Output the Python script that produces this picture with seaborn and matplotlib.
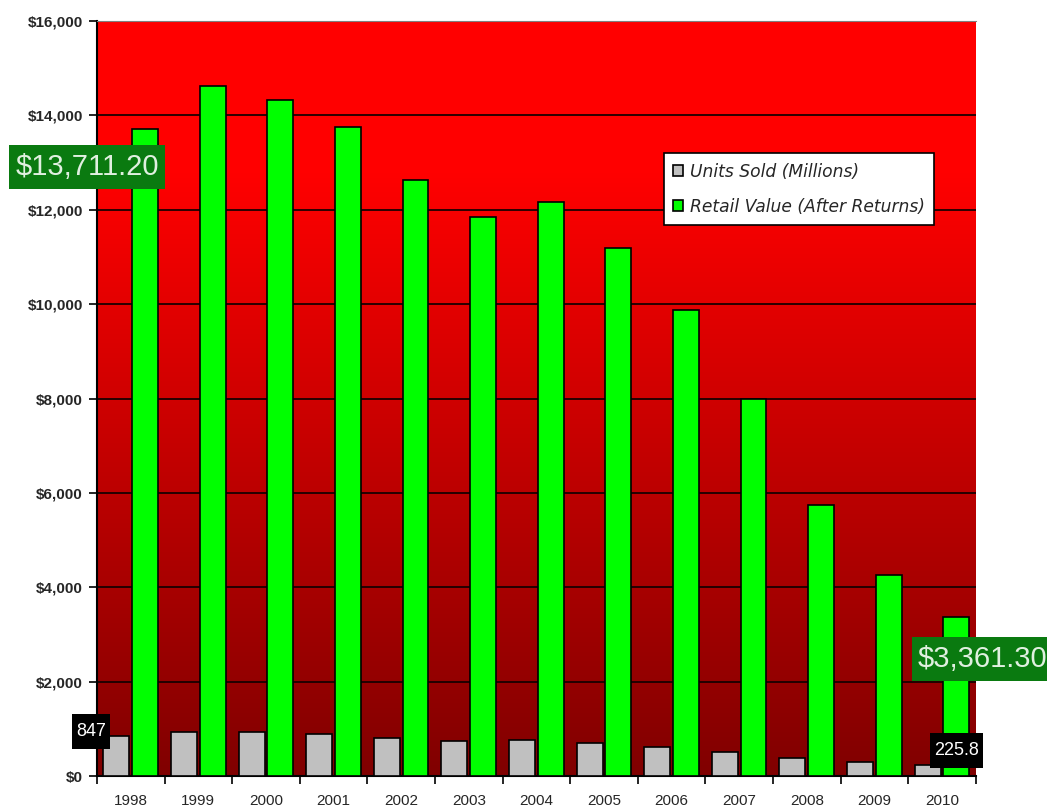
import numpy as np
import pandas as pd
import seaborn as sns
import matplotlib.pyplot as plt
from matplotlib.colors import LinearSegmentedColormap
from matplotlib.ticker import FuncFormatter, MultipleLocator
from matplotlib.path import Path as MplPath

# === Dados ===
years = ["1998", "1999", "2000", "2001", "2002", "2003", "2004",
         "2005", "2006", "2007", "2008", "2009", "2010"]
units_sold = [847, 938.9, 942.5, 881.9, 803.3, 745.9, 767.0,
              705.4, 614.9, 511.1, 384.7, 296.6, 225.8]
retail_value = [13711.2, 14620, 14335, 13750, 12630, 11850, 12158,
                11185, 9873, 7985, 5740, 4260, 3361.3]
series_names = ["Units Sold (Millions)", "Retail Value (After Returns)"]

df = pd.DataFrame({
    "year": years * 2,
    "value": units_sold + retail_value,
    "series": [series_names[0]] * len(years) + [series_names[1]] * len(years),
})

sns.set_theme(style="white")
plt.rcParams["font.family"] = ["Liberation Sans", "DejaVu Sans"]


def rect_box(pad_x, pad_y):
    """Caixa retangular com folgas diferentes na horizontal e vertical (pixels)."""
    def _box(x0, y0, width, height, mutation_size):
        x0, y0 = x0 - pad_x, y0 - pad_y
        x1, y1 = x0 + width + 2 * pad_x, y0 + height + 2 * pad_y
        return MplPath([(x0, y0), (x1, y0), (x1, y1), (x0, y1), (x0, y0)],
                       closed=True)
    return _box


fig = plt.figure(figsize=(10.47, 8.08), dpi=100)
ax = fig.add_axes([0.0926, 0.0396, 0.8394, 0.9344])

# fundo em degradê vermelho (claro em cima, escuro embaixo)
cmap = LinearSegmentedColormap.from_list(
    "redgrad", [(0.0, "#800000"), (0.8, "#ff0000"), (1.0, "#ff0000")])
grad = np.linspace(0, 1, 256).reshape(-1, 1)
ax.imshow(grad, cmap=cmap, origin="lower", aspect="auto",
          extent=[0, 1, 0, 1], transform=ax.transAxes, zorder=0)

sns.barplot(data=df, x="year", y="value", hue="series", ax=ax,
            hue_order=series_names, palette=["#c0c0c0", "#00ff00"],
            width=0.85, gap=0.1, edgecolor="black", linewidth=1.2,
            saturation=1, zorder=3)

ax.set_xlim(-0.5, 12.5)
ax.set_ylim(0, 16000)
ax.set_xlabel("")
ax.set_ylabel("")

# grade horizontal
ax.yaxis.set_major_locator(MultipleLocator(2000))
for v in range(2000, 16000, 2000):
    ax.axhline(v, color="#1a0000", lw=1.3, zorder=1)

ax.yaxis.set_major_formatter(FuncFormatter(lambda v, p: f"${v:,.0f}"))
ax.tick_params(axis="y", which="major", direction="out", length=6, width=1.2,
               color="black", left=True, labelsize=11, pad=4)
for lab in ax.get_yticklabels():
    lab.set_fontweight("bold")

# ticks do eixo x nos limites das categorias
ax.set_xticks(np.arange(-0.5, 13, 1), minor=True)
ax.tick_params(axis="x", which="minor", direction="out", length=6, width=1.2,
               color="black", bottom=True)
ax.tick_params(axis="x", which="major", length=0, labelsize=11, pad=13)

for s in ["left", "bottom"]:
    ax.spines[s].set_color("black")
    ax.spines[s].set_linewidth(1.5)
ax.spines["top"].set_color("#808080")
ax.spines["top"].set_linewidth(0.8)
ax.spines["right"].set_visible(False)

# legenda
handles, labels = ax.get_legend_handles_labels()
leg = ax.legend(handles, labels, loc="upper right", bbox_to_anchor=(0.953, 0.825),
                prop={"family": "DejaVu Sans", "style": "italic", "size": 12.3},
                handlelength=0.6, handleheight=0.6, handletextpad=0.4,
                labelspacing=1.0, borderpad=0.55, borderaxespad=0,
                frameon=True, fancybox=False, facecolor="white",
                edgecolor="black", framealpha=1)
leg.get_frame().set_linewidth(1.2)
leg.set_zorder(5)

# rótulos destacados
green_box = dict(boxstyle=rect_box(6, 8), fc="#0a7a10", ec="none")
black_box = dict(boxstyle=rect_box(4, 9), fc="black", ec="none")
ax.text(-0.645, 12900, "$13,711.20", ha="center", va="center", fontsize=21,
        color="#e0f0e0", zorder=6, clip_on=False, bbox=green_box)
ax.text(11.64, 2484, "$3,361.30", ha="left", va="center", fontsize=21,
        color="#e0f0e0", zorder=6, clip_on=False, bbox=green_box)
ax.text(-0.59, 934, "847", ha="center", va="center", fontsize=13,
        color="white", zorder=6, clip_on=False, bbox=black_box)
ax.text(12.21, 531, "225.8", ha="center", va="center", fontsize=13,
        color="white", zorder=6, clip_on=False, bbox=black_box)

fig.savefig("out.png", dpi=100, facecolor="white")
